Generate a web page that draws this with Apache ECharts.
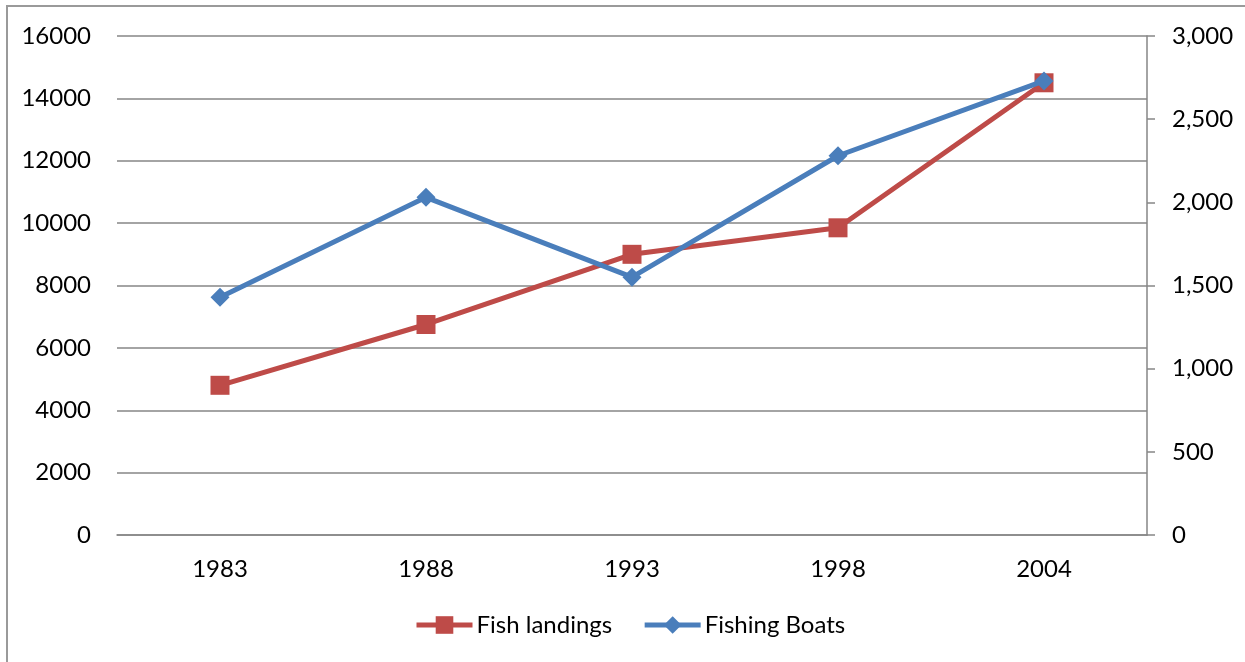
<!DOCTYPE html>
<html>
<head>
<meta charset="utf-8">
<script src="https://cdn.jsdelivr.net/npm/echarts@6/dist/echarts.min.js"></script>
<style>
  html, body { margin: 0; padding: 0; background: #fff; }
  #chart { width: 1245px; height: 662px; }
</style>
</head>
<body>
<div id="chart"></div>
<script>
// Years on the category axis
const years = ['1983', '1988', '1993', '1998', '2004'];
// Fish landings (left axis)
const fishLandings = [4800, 6750, 9000, 9850, 14500];
// Number of fishing boats (right axis)
const fishingBoats = [1430, 2030, 1550, 2280, 2730];

const FONT = 'Lato, "Open Sans", sans-serif';
const FS = 24;
const RED = '#BE4B48';
const BLUE = '#4A7EBB';
const GRID = '#868686';

const chart = echarts.init(document.getElementById('chart'), null, { renderer: 'canvas' });

chart.setOption({
  backgroundColor: '#fff',
  animation: false,
  textStyle: { fontFamily: FONT },
  graphic: [{
    type: 'rect',
    shape: { x: 7, y: 6, width: 1300, height: 700 },
    style: { fill: 'none', stroke: '#9a9a9a', lineWidth: 2 },
    silent: true,
    z: -1
  }],
  grid: { left: 117, right: 98, top: 36, bottom: 127, containLabel: false },
  legend: {
    bottom: 20,
    left: 409,
    itemWidth: 56,
    itemHeight: 22,
    itemGap: 30,
    lineStyle: { width: 5 },
    textStyle: { fontFamily: FONT, fontSize: FS, color: '#000', padding: [0, 0, 0, -1] },
    data: ['Fish landings', 'Fishing Boats']
  },
  xAxis: {
    type: 'category',
    data: years,
    boundaryGap: true,
    axisLine: { show: true, lineStyle: { color: GRID, width: 1.5 } },
    axisTick: { show: false },
    axisLabel: { color: '#000', fontSize: FS, fontFamily: FONT, margin: 22 }
  },
  yAxis: [{
    type: 'value',
    min: 0,
    max: 16000,
    interval: 2000,
    position: 'left',
    axisLine: { show: false },
    axisTick: { show: false },
    splitLine: { show: true, lineStyle: { color: GRID, width: 1.5 } },
    axisLabel: {
      color: '#000', fontSize: FS, fontFamily: FONT, margin: 26,
      formatter: v => String(v)
    }
  }, {
    type: 'value',
    min: 0,
    max: 3000,
    interval: 500,
    position: 'right',
    axisLine: { show: true, lineStyle: { color: GRID, width: 1.5 } },
    axisTick: { show: true, inside: false, length: 8, lineStyle: { color: GRID, width: 1.5 } },
    splitLine: { show: false },
    axisLabel: {
      color: '#000', fontSize: FS, fontFamily: FONT, margin: 25,
      formatter: v => v.toLocaleString('en-US')
    }
  }],
  series: [{
    name: 'Fish landings',
    type: 'line',
    yAxisIndex: 0,
    data: fishLandings,
    symbol: 'rect',
    symbolSize: 19,
    lineStyle: { color: RED, width: 5 },
    itemStyle: { color: RED },
    z: 2
  }, {
    name: 'Fishing Boats',
    type: 'line',
    yAxisIndex: 1,
    data: fishingBoats,
    symbol: 'diamond',
    symbolSize: 19,
    lineStyle: { color: BLUE, width: 5 },
    itemStyle: { color: BLUE },
    z: 3
  }]
});
</script>
</body>
</html>
